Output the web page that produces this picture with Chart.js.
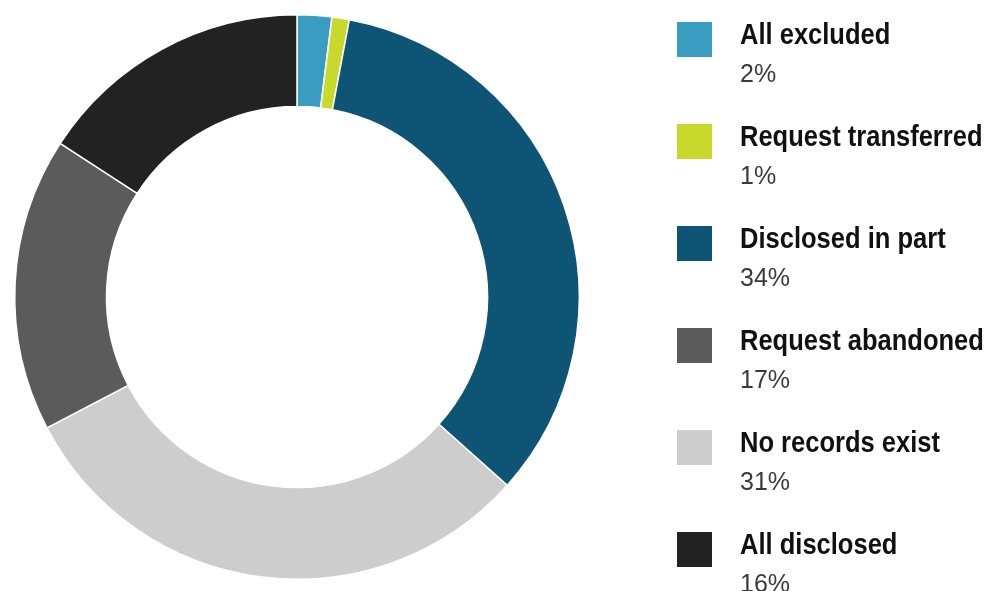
<!DOCTYPE html>
<html>
<head>
<meta charset="utf-8">
<title>Request outcomes</title>
<script src="https://cdn.jsdelivr.net/npm/chart.js@4/dist/chart.umd.min.js"></script>
<style>
    html, body { margin: 0; padding: 0; background: #ffffff; }
    #chartBox { position: relative; width: 988px; height: 591px; }
</style>
</head>
<body>
<div id="chartBox"><canvas id="outcomeChart"></canvas></div>
<script>
    "use strict";
    // ring order, clockwise from 12 o'clock
    let outcome_labels = [
        "All excluded",
        "Request transferred",
        "Disclosed in part",
        "No records exist",
        "Request abandoned",
        "All disclosed",
    ];
    let outcome_values = [2, 1, 34, 31, 17, 16];
    let outcome_colors = ["#3a9cc0", "#c9d92b", "#0e5575", "#cdcdcd", "#5b5b5b", "#222222"];
    // order the entries are listed in on the right
    let legend_order = [
        "All excluded",
        "Request transferred",
        "Disclosed in part",
        "Request abandoned",
        "No records exist",
        "All disclosed",
    ];

    const legendFont = '"Liberation Sans", Arial, sans-serif';

    /**
     * @description Draws the two-line legend (name + percentage) to the right of the ring
     */
    const sideLegend = {
        id: "sideLegend",
        afterDraw: function (chart) {
            const ctx = chart.ctx;
            const labels = chart.data.labels;
            const values = chart.data.datasets[0].data;
            const colors = chart.data.datasets[0].backgroundColor;
            ctx.save();
            ctx.textBaseline = "alphabetic";
            ctx.textAlign = "left";
            legend_order.forEach(function (name, row) {
                let idx = labels.indexOf(name);
                let top = 22 + row * 102;
                ctx.fillStyle = colors[idx];
                ctx.fillRect(677, top, 35, 35);

                // condensed heading
                ctx.save();
                ctx.translate(740, top + 22);
                ctx.scale(0.88, 1);
                ctx.fillStyle = "#111111";
                ctx.font = "bold 29px " + legendFont;
                ctx.fillText(name, 0, 0);
                ctx.restore();

                ctx.fillStyle = "#3a3a3a";
                ctx.font = "normal 25px " + legendFont;
                ctx.fillText(values[idx] + "%", 740, top + 60);
            });
            ctx.restore();
        },
    };

    const config = {
        type: "doughnut",
        data: {
            labels: outcome_labels,
            datasets: [
                {
                    data: outcome_values,
                    backgroundColor: outcome_colors,
                    borderColor: "#ffffff",
                    borderWidth: 1.5,
                },
            ],
        },
        options: {
            responsive: true,
            maintainAspectRatio: false,
            animation: false,
            cutout: "67.5%",
            layout: {
                padding: { left: 14, top: 14, bottom: 11, right: 408 },
            },
            plugins: {
                legend: { display: false },
                tooltip: { enabled: false },
            },
        },
        plugins: [sideLegend],
    };

    new Chart(document.getElementById("outcomeChart"), config);
</script>
</body>
</html>
